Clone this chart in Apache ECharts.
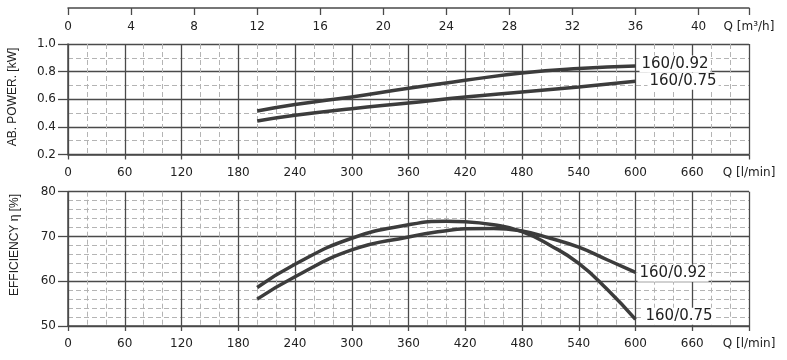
<!DOCTYPE html>
<html><head><meta charset="utf-8">
<script src="https://cdn.jsdelivr.net/npm/echarts@6/dist/echarts.min.js"></script>
<style>html,body{margin:0;padding:0;background:#fff}#c{width:787px;height:360px}</style>
</head><body><div id="c"></div>
<script>
// Power curves (Q in l/min, power in kW)
const qPower = [200, 240, 300, 360, 420, 480, 540, 600];
const power092 = [0.515, 0.562, 0.617, 0.680, 0.737, 0.790, 0.822, 0.840];
const power075 = [0.443, 0.484, 0.532, 0.573, 0.617, 0.653, 0.689, 0.730];
// Efficiency curves (Q in l/min, efficiency in %)
const qEff = [200, 240, 300, 360, 400, 420, 450, 480, 510, 540, 570, 600];
const eff092 = [56.0, 61.0, 67.0, 69.9, 71.3, 71.7, 71.8, 71.2, 69.6, 67.6, 64.8, 62.0];
const eff075 = [58.6, 63.8, 69.6, 72.6, 73.4, 73.3, 72.6, 71.1, 68.0, 64.0, 58.2, 51.5];
const seriesNames = ['160/0.92', '160/0.75'];
const qUnitLmin = 'Q [l/min]';
const qUnitM3h = 'Q [m³/h]';
const powerTitle = 'AB. POWER. [kW]';
const effTitle = 'EFFICIENCY η [%]';

const FONT = 'DejaVu Sans';
const TXT = '#222';
const MAJ = '#4a4a4a';
const MIN = '#b4b4b4';
const LINE = '#3c3c3c';

function pairs(xs, ys) { return xs.map((x, i) => [x, ys[i]]); }

function lminAxis(gi) {
  return {
    type: 'value', gridIndex: gi, min: 0, max: 720, interval: 60, position: 'bottom',
    axisLine: { show: true, lineStyle: { color: MAJ, width: 1.5 } },
    axisTick: { show: true, length: 5, lineStyle: { color: MAJ, width: 1.3 } },
    axisLabel: { margin: 12, color: TXT, fontFamily: FONT, fontSize: 12,
      formatter: v => v >= 720 ? qUnitLmin : String(v) },
    splitLine: { show: true, lineStyle: { color: MAJ, width: 1.3 } },
    minorTick: { show: true, splitNumber: 3, length: 0, lineStyle: { opacity: 0 } },
    minorSplitLine: { show: true, lineStyle: { color: MIN, width: 1, type: [5, 3] } }
  };
}
function yAx(gi, min, max, interval, minorN, fmt) {
  return {
    type: 'value', gridIndex: gi, min: min, max: max, interval: interval,
    axisLine: { show: true, lineStyle: { color: MAJ, width: 1.5 } },
    axisTick: { show: true, length: 10, lineStyle: { color: MAJ, width: 1.3 } },
    axisLabel: { margin: 12, color: TXT, fontFamily: FONT, fontSize: 12, formatter: fmt },
    splitLine: { show: true, lineStyle: { color: MAJ, width: 1.3 } },
    minorTick: { show: true, splitNumber: minorN, length: 0, lineStyle: { opacity: 0 } },
    minorSplitLine: { show: true, lineStyle: { color: MIN, width: 1, type: [5, 3] } }
  };
}
function lineSeries(name, xi, yi, data, offset) {
  return {
    type: 'line', name: name, xAxisIndex: xi, yAxisIndex: yi, data: data,
    smooth: true, symbol: 'none', z: 5,
    lineStyle: { color: LINE, width: 3.5 },
    endLabel: { show: true, formatter: '{a}', color: TXT, fontFamily: FONT, fontSize: 15,
      backgroundColor: '#fff', padding: [1, 2, 1, 2], offset: offset, distance: 2 }
  };
}

const chart = echarts.init(document.getElementById('c'), null, { renderer: 'canvas' });
chart.setOption({
  animation: false,
  backgroundColor: '#fff',
  grid: [
    { left: 68, top: 44, width: 681, height: 110.5 },
    { left: 68, top: 191.7, width: 681, height: 134.3 }
  ],
  xAxis: [
    lminAxis(0),
    {
      type: 'value', gridIndex: 0, min: 0, max: 43.2, interval: 4, position: 'top', offset: 36,
      axisLine: { show: true, lineStyle: { color: MAJ, width: 1.5 } },
      axisTick: { show: true, inside: true, length: 7, lineStyle: { color: MAJ, width: 1.3 } },
      axisLabel: { inside: true, margin: 13, color: TXT, fontFamily: FONT, fontSize: 12,
        formatter: v => v > 41 ? qUnitM3h : String(v) },
      splitLine: { show: false }
    },
    lminAxis(1)
  ],
  yAxis: [
    yAx(0, 0.2, 1.0, 0.2, 2, v => v.toFixed(1)),
    yAx(1, 50, 80, 10, 5, v => String(v))
  ],
  graphic: [
    { type: 'text', x: 13, y: 97, rotation: Math.PI / 2,
      style: { text: powerTitle, fill: TXT, font: '12px "Liberation Sans"', align: 'center', verticalAlign: 'middle' } },
    { type: 'text', x: 15, y: 245, rotation: Math.PI / 2,
      style: { text: effTitle, fill: TXT, font: '12px "Liberation Sans"', align: 'center', verticalAlign: 'middle' } }
  ],
  series: [
    lineSeries(seriesNames[0], 0, 0, pairs(qPower, power092), [2, -2]),
    lineSeries(seriesNames[1], 0, 0, pairs(qPower, power075), [10, 0]),
    lineSeries(seriesNames[0], 2, 1, pairs(qEff, eff092), [0, 1]),
    lineSeries(seriesNames[1], 2, 1, pairs(qEff, eff075), [6, -3])
  ]
});
</script></body></html>
